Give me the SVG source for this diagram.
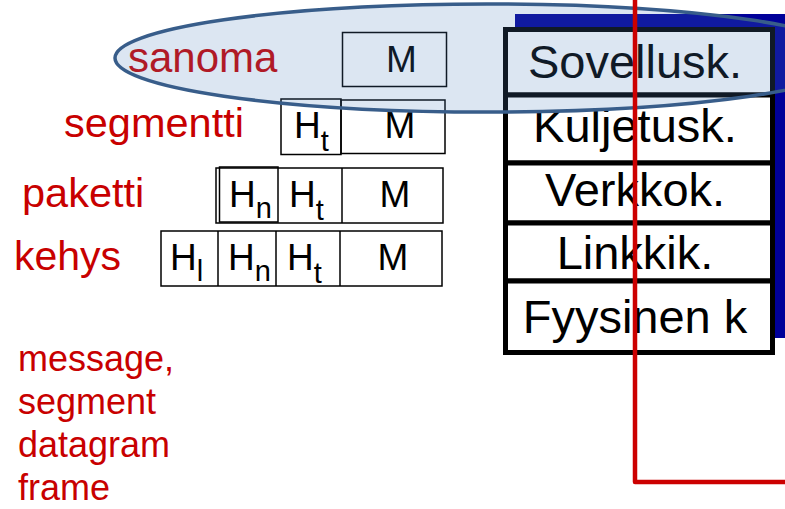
<svg xmlns="http://www.w3.org/2000/svg" width="785" height="509" viewBox="0 0 785 509">
<style>
.lbl{font-family:"Liberation Sans",Arial,sans-serif;fill:#c80000}
.cell{fill:none;stroke:#000;stroke-width:1.5}
.ct{font-family:"Liberation Sans",Arial,sans-serif;font-size:37px;fill:#000}
.sub{font-size:29px}
.layer{fill:#fff;stroke:#000;stroke-width:5}
.lt{font-family:"Liberation Sans",Arial,sans-serif;font-size:47px;fill:#000;text-anchor:middle}
</style>
<rect x="0" y="0" width="785" height="509" fill="#fff"/>
<g id="shadow"><rect x="515" y="14" width="275" height="324" fill="#000099"/></g>
<g id="stack">
<rect class="layer" x="505.5" y="29.5" width="267" height="65.5"/>
<rect class="layer" x="505.5" y="95" width="267" height="68"/>
<rect class="layer" x="505.5" y="163" width="267" height="60"/>
<rect class="layer" x="505.5" y="223" width="267" height="58"/>
<rect class="layer" x="505.5" y="281" width="267" height="71.5"/>
<text class="lt" x="635" y="78">Sovellusk.</text>
<text class="lt" x="635" y="142">Kuljetusk.</text>
<text class="lt" x="635" y="206">Verkkok.</text>
<text class="lt" x="635" y="269">Linkkik.</text>
<text class="lt" x="635" y="333">Fyysinen k</text>
</g>
<g id="sanoma">
<text class="lbl" x="128" y="72" font-size="42">sanoma</text>
<rect class="cell" x="342.5" y="32.5" width="104" height="54"/>
<text class="ct" x="401.5" y="72" text-anchor="middle">M</text>
</g>
<g id="segmentti">
<text class="lbl" x="64" y="137" font-size="41.5">segmentti</text>
<rect class="cell" x="281" y="99" width="60" height="55.5"/>
<rect class="cell" x="341" y="100" width="104" height="53.5"/>
<text class="ct" x="294" y="138">H<tspan class="sub" dy="13">t</tspan></text>
<text class="ct" x="400" y="138" text-anchor="middle">M</text>
</g>
<g id="paketti">
<text class="lbl" x="22" y="207" font-size="41.5">paketti</text>
<rect class="cell" x="216" y="168" width="227" height="55"/>
<rect class="cell" x="219.5" y="167" width="58.5" height="55"/>
<line class="cell" x1="342" y1="168" x2="342" y2="223"/>
<text class="ct" x="229" y="207">H<tspan class="sub" dy="11">n</tspan></text>
<text class="ct" x="289" y="207">H<tspan class="sub" dy="13">t</tspan></text>
<text class="ct" x="395" y="207" text-anchor="middle">M</text>
</g>
<g id="kehys">
<text class="lbl" x="14" y="270" font-size="41">kehys</text>
<rect class="cell" x="161" y="231" width="281" height="55"/>
<line class="cell" x1="218" y1="231" x2="218" y2="286"/>
<line class="cell" x1="276" y1="231" x2="276" y2="286"/>
<line class="cell" x1="340" y1="231" x2="340" y2="286"/>
<text class="ct" x="170" y="270">H<tspan class="sub" dy="11">l</tspan></text>
<text class="ct" x="228" y="270">H<tspan class="sub" dy="11">n</tspan></text>
<text class="ct" x="287" y="270">H<tspan class="sub" dy="13">t</tspan></text>
<text class="ct" x="393" y="270" text-anchor="middle">M</text>
</g>
<g id="names">
<text class="lbl" font-size="36" x="18" y="371">message,</text>
<text class="lbl" font-size="36" x="18" y="414">segment</text>
<text class="lbl" font-size="36" x="18" y="457">datagram</text>
<text class="lbl" font-size="36" x="18" y="500">frame</text>
</g>
<g id="highlight">
<ellipse cx="487" cy="58" rx="372" ry="54" fill="#4f81bd" fill-opacity="0.2" stroke="#385d8a" stroke-width="3.5"/>
</g>
<g id="connectors">
<polyline points="635,0 635,482 785,482" fill="none" stroke="#cc0000" stroke-width="4.5" stroke-linejoin="round"/>
</g>
</svg>
